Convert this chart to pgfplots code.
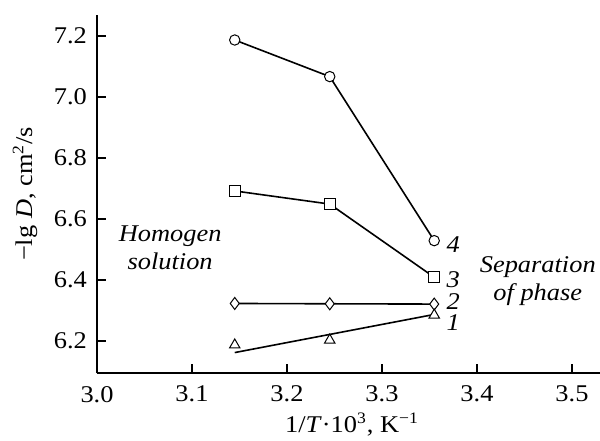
\documentclass[border=0pt]{standalone}
\usepackage{fontspec}
\setmainfont{Liberation Serif}[FakeStretch=1.1]
\usepackage{pgfplots}
\pgfplotsset{compat=1.18}

\begin{document}
\begin{tikzpicture}
  \useasboundingbox (0,0) rectangle (300pt,220pt);
  \begin{axis}[
      at={(48.5pt,33.5pt)}, anchor=south west,
      scale only axis,
      width=251.5pt, height=179pt,
      xmin=3.0, xmax=3.5295,
      ymin=6.095, ymax=7.269,
      axis lines*=left,
      axis line style={line width=1pt},
      tick align=inside,
      major tick length=4.5pt,
      tick style={line width=0.8pt, black},
      xtick={3.0,3.1,3.2,3.3,3.4,3.5},
      xticklabels={3.0,3.1,3.2,3.3,3.4,3.5},
      ytick={6.2,6.4,6.6,6.8,7.0,7.2},
      yticklabels={6.2,6.4,6.6,6.8,7.0,7.2},
      tick label style={font=\fontsize{12}{14}\selectfont},
      yticklabel style={xshift=-1.5pt},
      xticklabel style={yshift=-3pt},
      xlabel={1/\textit{T}·10\textsuperscript{3}, K\textsuperscript{−1}},
      ylabel={−lg \textit{D}, cm\textsuperscript{2}/s},
      label style={font=\fontsize{12}{14}\selectfont},
      xlabel style={at={(axis description cs:0.507,-0.165)}, anchor=base},
      ylabel style={at={(axis description cs:-0.143,0.5)}, anchor=center},
      every axis plot/.append style={line width=0.8pt, black},
      mark options={solid, fill=white, line width=0.5pt},
      clip=false,
    ]
    % curve 4
    \addplot[mark=*, mark size=2.6pt] coordinates {(3.145,7.187) (3.245,7.067) (3.355,6.529)};
    % curve 3
    \addplot[mark=square*, mark size=2.75pt] coordinates {(3.145,6.692) (3.245,6.649) (3.355,6.409)};
    % curve 2
    \addplot[mark=diamond*, mark size=3pt] coordinates {(3.145,6.323) (3.245,6.322) (3.355,6.321)};
    % curve 1: fitted line and measured points
    \addplot[no marks] coordinates {(3.145,6.162) (3.355,6.287)};
    \addplot[only marks, mark=triangle*, mark size=3pt] coordinates {(3.145,6.187) (3.245,6.203) (3.355,6.285)};

    \begin{scope}[font=\fontsize{12}{14}\selectfont\itshape]
      \node at (axis cs:3.375,6.515) {4};
      \node at (axis cs:3.375,6.400) {3};
      \node at (axis cs:3.375,6.328) {2};
      \node at (axis cs:3.375,6.259) {1};
      \node[align=center, inner sep=0pt] at (axis cs:3.464,6.397) {Separation\\of phase};
      \node[align=center, inner sep=0pt] at (axis cs:3.077,6.507) {Homogen\\solution};
    \end{scope}
  \end{axis}
\end{tikzpicture}
\end{document}
